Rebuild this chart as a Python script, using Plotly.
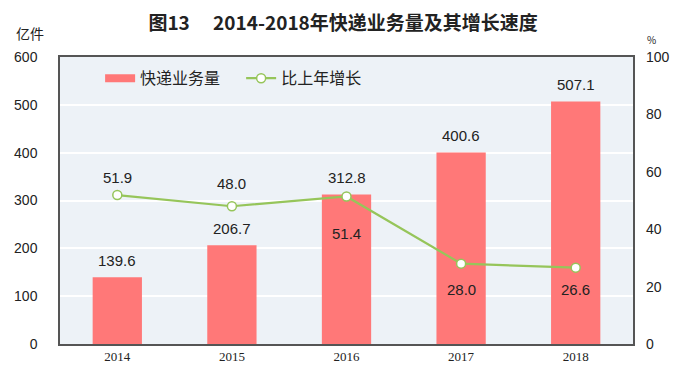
import plotly.graph_objects as go

years = ["2014", "2015", "2016", "2017", "2018"]
volume = [139.6, 206.7, 312.8, 400.6, 507.1]
growth = [51.9, 48.0, 51.4, 28.0, 26.6]

# label offsets in pixels (style only)
bar_label_shift = 17
growth_label_shift = [18, 23, -37, -26, -22]

FONT = "Noto Sans CJK SC, Liberation Sans, sans-serif"
NUMFONT = dict(size=15, color="#222", family="Liberation Sans, Arial")
BAR = "#ff7878"
GREEN = "#96c55a"

fig = go.Figure()
fig.add_trace(go.Bar(
    x=years, y=volume, name="快递业务量", showlegend=False,
    marker=dict(color=BAR, line=dict(width=0)),
    width=0.43,
))
# legend-only entry to draw the wide bar swatch
fig.add_trace(go.Scatter(
    x=[years[0]], y=[None], name="快递业务量　", mode="lines",
    line=dict(color=BAR, width=8),
))
fig.add_trace(go.Scatter(
    x=years, y=growth, name="比上年增长", yaxis="y2",
    mode="lines+markers",
    line=dict(color=GREEN, width=2.2),
    marker=dict(size=9, color="white", line=dict(color=GREEN, width=1.5)),
    cliponaxis=False,
))

annotations = []
for i, v in enumerate(volume):
    annotations.append(dict(x=i, y=v, xref="x", yref="y", text=f"{v:.1f}", showarrow=False,
                            yanchor="middle", yshift=bar_label_shift, font=NUMFONT))
for i, (g, s) in enumerate(zip(growth, growth_label_shift)):
    annotations.append(dict(x=i, y=g, xref="x", yref="y2", text=f"{g:.1f}", showarrow=False,
                            yanchor="middle", yshift=s, font=NUMFONT))
annotations += [
    dict(text="亿件", xref="paper", yref="paper", x=-0.052, y=1.083, xanchor="center",
         yanchor="middle", showarrow=False, font=dict(size=14, family=FONT, color="#222")),
    dict(text="%", xref="paper", yref="paper", x=1.033, y=1.062, xanchor="center",
         yanchor="middle", showarrow=False, font=dict(size=10, family=FONT, color="#222")),
]

fig.update_layout(
    width=677, height=371,
    margin=dict(l=52, r=52, t=49, b=35, autoexpand=False),
    paper_bgcolor="white", plot_bgcolor="#edf2f7",
    showlegend=True,
    legend=dict(orientation="h", x=0.07, y=0.985, xanchor="left", yanchor="top",
                bgcolor="rgba(0,0,0,0)", font=dict(size=16, family=FONT, color="#222"),
                traceorder="normal"),
    title=dict(text="图13　 2014-2018年快递业务量及其增长速度", x=0.495, xanchor="center",
               y=0.958, yanchor="middle", font=dict(size=19, family=FONT, color="#222", weight=600)),
    xaxis=dict(type="category", categoryorder="array", categoryarray=years,
               range=[-0.5, len(years) - 0.5],
               showline=True, linecolor="#555", linewidth=1.5, mirror=True, automargin=False,
               tickfont=dict(size=13, family="Liberation Serif, serif", color="#222"),
               ticks="", showgrid=False),
    yaxis=dict(range=[0, 600], dtick=100, showgrid=True, gridcolor="white", gridwidth=1.5,
               showline=True, linecolor="#555", linewidth=1.5, mirror=True, automargin=False,
               tickfont=dict(size=14, family="Liberation Sans, Arial", color="#222"),
               ticks="", ticklabelstandoff=18, zeroline=False),
    yaxis2=dict(range=[0, 100], dtick=20, overlaying="y", side="right", showgrid=False,
                automargin=False,
                tickfont=dict(size=14, family="Liberation Sans, Arial", color="#222"),
                ticks="", ticklabelstandoff=12, zeroline=False, showline=False),
    annotations=annotations,
)

fig.write_html("out.html")
